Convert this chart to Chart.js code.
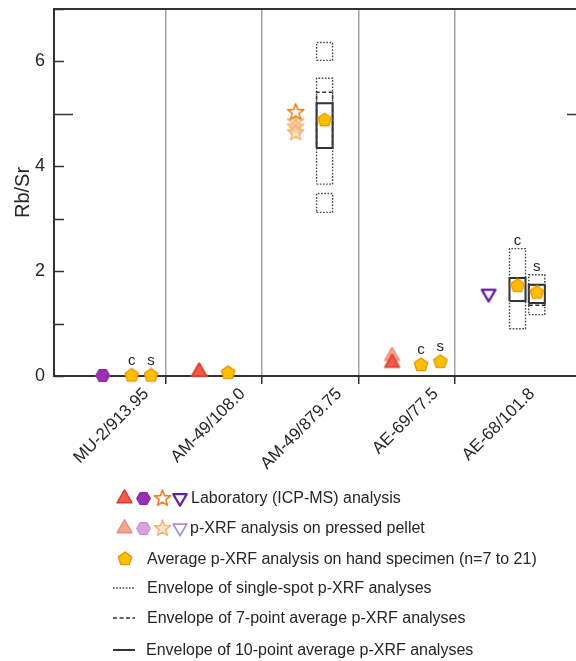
<!DOCTYPE html>
<html>
<head>
<meta charset="utf-8">
<title>Rb/Sr</title>
<script src="https://cdn.jsdelivr.net/npm/chart.js@4"></script>
<style>
  html, body { margin: 0; padding: 0; background: #fff; overflow: hidden; }
  #wrap { position: relative; width: 576px; height: 661px; overflow: hidden;
          font-family: "Liberation Sans", Arial, sans-serif; color: #262626; }
  #chart { position: absolute; left: 0; top: 0; }
  .sym { position: absolute; display: block; }
  .txt { position: absolute; font-size: 16px; line-height: 20px; white-space: nowrap; }
</style>
</head>
<body>
<div id="wrap">
  <canvas id="chart" width="600" height="480"></canvas>
</div>
<script>
// samples (drill hole / depth)
const categories = ['MU-2/913.95', 'AM-49/108.0', 'AM-49/879.75', 'AE-69/77.5', 'AE-68/101.8'];
const yTicks = [0, 1, 2, 3, 4, 5, 6, 7];
const yLabels = ['0', '', '2', '', '4', '', '6', ''];

// [sample, Rb/Sr]
const labTriangle = [['AM-49/108.0', 0.08], ['AE-69/77.5', 0.25]];
const pelletTriangle = [['AM-49/108.0', 0.08], ['AE-69/77.5', 0.38]];
const labHexagon = [['MU-2/913.95', 0.01]];
const pelletHexagon = [['MU-2/913.95', 0.01]];
const labStar = [['AM-49/879.75', 5.03]];
const pelletStar = [['AM-49/879.75', 4.85], ['AM-49/879.75', 4.75], ['AM-49/879.75', 4.64]];
const labTriDown = [['AE-68/101.8', 1.57]];
const pelletTriDown = [['AE-68/101.8', 1.57]];

// average on hand specimen: [sample, part (c = core, s = surface), Rb/Sr]
const handAverage = [
    ['MU-2/913.95', 'c', 0.01], ['MU-2/913.95', 's', 0.01],
    ['AM-49/108.0', '', 0.06],
    ['AM-49/879.75', '', 4.88],
    ['AE-69/77.5', 'c', 0.21], ['AE-69/77.5', 's', 0.27],
    ['AE-68/101.8', 'c', 1.72], ['AE-68/101.8', 's', 1.59]
];

// envelopes: [sample, part, low, high, kind]
const envelopes = [
    ['AM-49/879.75', '', 6.02, 6.36, 'single'],
    ['AM-49/879.75', '', 3.66, 5.68, 'single'],
    ['AM-49/879.75', '', 3.12, 3.48, 'single'],
    ['AM-49/879.75', '', 4.35, 5.41, 'avg7'],
    ['AM-49/879.75', '', 4.35, 5.20, 'avg10'],
    ['AE-68/101.8', 'c', 0.90, 2.43, 'single'],
    ['AE-68/101.8', 'c', 1.43, 1.87, 'avg10'],
    ['AE-68/101.8', 's', 1.17, 1.93, 'single'],
    ['AE-68/101.8', 's', 1.35, 1.74, 'avg7'],
    ['AE-68/101.8', 's', 1.39, 1.74, 'avg10']
];

// horizontal slot of each mark inside its sample column
const slotOffset = { lab: -0.15, '': 0.15, c: 0.15, s: 0.35 };
const boxHalf = 0.083;
const lineStyles = {
    single: { dash: [1.6, 1.6], width: 1.4, color: '#444' },
    avg7: { dash: [4, 2.5], width: 1.5, color: '#333' },
    avg10: { dash: [], width: 2, color: '#333' }
};

function xOf(sample, slot) {
    return categories.indexOf(sample) + slotOffset[slot];
}

// custom marker shapes
function makeMarker(shape, fill, stroke, r, lw) {
    const size = Math.ceil(r * 2 + lw + 4);
    const c = document.createElement('canvas');
    c.width = size;
    c.height = size;
    const g = c.getContext('2d');
    const cx = size / 2, cy = size / 2;
    const pts = [];
    const poly = (n, start) => {
        for (let i = 0; i < n; i++) {
            const a = start + i * 2 * Math.PI / n;
            pts.push([cx + r * Math.cos(a), cy + r * Math.sin(a)]);
        }
    };
    if (shape === 'triangle') poly(3, -Math.PI / 2);
    else if (shape === 'triangleDown') poly(3, Math.PI / 2);
    else if (shape === 'hexagon') poly(6, 0);
    else if (shape === 'pentagon') poly(5, -Math.PI / 2);
    else if (shape === 'star') {
        for (let i = 0; i < 10; i++) {
            const a = -Math.PI / 2 + i * Math.PI / 5;
            const rad = i % 2 ? r * 0.42 : r;
            pts.push([cx + rad * Math.cos(a), cy + rad * Math.sin(a)]);
        }
    }
    g.beginPath();
    pts.forEach((p, i) => i ? g.lineTo(p[0], p[1]) : g.moveTo(p[0], p[1]));
    g.closePath();
    g.fillStyle = fill;
    g.fill();
    g.lineJoin = 'round';
    g.lineWidth = lw;
    g.strokeStyle = stroke;
    g.stroke();
    return c;
}

const markers = {
    labTriangle: () => makeMarker('triangle', '#f25a48', '#dc3a2a', 8.6, 1.5),
    pelletTriangle: () => makeMarker('triangle', '#f5a594', '#f18b7a', 8.6, 1.5),
    labHexagon: () => makeMarker('hexagon', '#9b2fb2', '#8f28a6', 6.8, 1.2),
    pelletHexagon: () => makeMarker('hexagon', '#dba2e3', '#d08fd9', 6.8, 1.2),
    labStar: () => makeMarker('star', '#ffffff', '#f0801e', 8.5, 1.6),
    pelletStar: () => makeMarker('star', 'rgba(252,214,175,0.6)', '#f6b276', 8.5, 1.5),
    labTriDown: () => makeMarker('triangleDown', '#ffffff', '#6b1d9e', 7.8, 2.2),
    pelletTriDown: () => makeMarker('triangleDown', '#ffffff', '#a88fd8', 7.8, 1.8),
    pentagon: () => makeMarker('pentagon', '#ffc000', '#f29200', 7, 1.4)
};

function pointSet(label, rows, marker) {
    return {
        label: label,
        data: rows.map(r => ({ x: xOf(r[0], 'lab'), y: r[1] })),
        pointStyle: markers[marker](),
        pointRadius: 8,
        showLine: false,
        clip: false
    };
}

const pentagonSet = {
    label: 'Average p-XRF analysis on hand specimen (n=7 to 21)',
    data: handAverage.map(r => ({ x: xOf(r[0], r[1]), y: r[2] })),
    pointStyle: markers.pentagon(),
    pointRadius: 8,
    showLine: false,
    clip: false
};

const boxSets = envelopes.map(e => {
    const x = xOf(e[0], e[1]);
    const st = lineStyles[e[4]];
    return {
        label: 'envelope ' + e[4],
        data: [
            { x: x - boxHalf, y: e[2] }, { x: x + boxHalf, y: e[2] },
            { x: x + boxHalf, y: e[3] }, { x: x - boxHalf, y: e[3] },
            { x: x - boxHalf, y: e[2] }
        ],
        showLine: true,
        fill: false,
        pointRadius: 0,
        borderColor: st.color,
        borderWidth: st.width,
        borderDash: st.dash,
        borderJoinStyle: 'miter',
        tension: 0,
        clip: false
    };
});

// separators between sample columns
const separators = categories.slice(1).map((c, i) => i + 0.5);

// c / s labels, inward axis ticks and frame
const extras = {
    id: 'extras',
    afterDatasetsDraw(chart) {
        const ctx = chart.ctx;
        const xs = chart.scales.x, ys = chart.scales.y;
        ctx.save();
        ctx.font = '15px "Liberation Sans", Arial, sans-serif';
        ctx.fillStyle = '#262626';
        ctx.textAlign = 'center';
        ctx.textBaseline = 'middle';
        handAverage.forEach(r => {
            if (!r[1]) return;
            const boxes = envelopes.filter(e => e[0] === r[0] && e[1] === r[1]);
            let py;
            if (boxes.length) py = ys.getPixelForValue(Math.max(...boxes.map(e => e[3]))) - 8;
            else py = ys.getPixelForValue(r[2]) - 15;
            ctx.fillText(r[1], xs.getPixelForValue(xOf(r[0], r[1])), py);
        });
        ctx.restore();
    },
    afterDraw(chart) {
        const ctx = chart.ctx;
        const a = chart.chartArea;
        const ys = chart.scales.y;
        ctx.save();
        ctx.strokeStyle = '#333';
        ctx.lineWidth = 1.5;
        yTicks.forEach(v => {
            const py = Math.round(ys.getPixelForValue(v)) + 0.5;
            const len = v === 5 ? 19 : 10;
            ctx.beginPath();
            ctx.moveTo(a.left, py); ctx.lineTo(a.left + len, py);
            ctx.moveTo(a.right, py); ctx.lineTo(a.right - len, py);
            ctx.stroke();
        });
        ctx.lineWidth = 2;
        ctx.beginPath();
        ctx.moveTo(a.left, a.top); ctx.lineTo(a.right, a.top); ctx.lineTo(a.right, a.bottom);
        ctx.stroke();
        ctx.restore();
    }
};

const labelFont = { family: '"Liberation Sans", Arial, sans-serif', size: 17 };

new Chart(document.getElementById('chart'), {
    type: 'scatter',
    data: {
        datasets: [
            pentagonSet,
            pointSet('Laboratory (ICP-MS) analysis', labTriangle, 'labTriangle'),
            pointSet('Laboratory (ICP-MS) analysis', labHexagon, 'labHexagon'),
            pointSet('Laboratory (ICP-MS) analysis', labStar, 'labStar'),
            pointSet('Laboratory (ICP-MS) analysis', labTriDown, 'labTriDown'),
            pointSet('p-XRF analysis on pressed pellet', pelletTriangle, 'pelletTriangle'),
            pointSet('p-XRF analysis on pressed pellet', pelletHexagon, 'pelletHexagon'),
            pointSet('p-XRF analysis on pressed pellet', pelletStar, 'pelletStar'),
            pointSet('p-XRF analysis on pressed pellet', pelletTriDown, 'pelletTriDown'),
            ...boxSets
        ]
    },
    options: {
        responsive: false,
        animation: false,
        devicePixelRatio: 1,
        layout: { padding: { left: 0, top: 4, right: 14, bottom: 0 } },
        plugins: {
            legend: { display: false },
            tooltip: { enabled: false }
        },
        scales: {
            x: {
                type: 'linear',
                min: -0.655,
                max: 4.86,
                afterBuildTicks(scale) {
                    const vals = [-0.5];
                    categories.forEach((c, i) => { vals.push(i); vals.push(i + 0.5); });
                    scale.ticks = vals.map(v => ({ value: v }));
                },
                afterFit(scale) {
                    scale.height = 104;
                    scale.paddingLeft = 0;
                    scale.paddingRight = 0;
                },
                grid: {
                    color: ctx => separators.includes(ctx.tick.value) ? '#a3a3a3' : 'rgba(0,0,0,0)',
                    tickColor: ctx => separators.includes(ctx.tick.value) ? '#333' : 'rgba(0,0,0,0)',
                    lineWidth: 1.5,
                    tickWidth: 1.5,
                    tickLength: 8
                },
                border: { color: '#333', width: 2 },
                ticks: {
                    autoSkip: false,
                    minRotation: 45,
                    maxRotation: 45,
                    labelOffset: 29,
                    padding: 0,
                    color: '#262626',
                    font: labelFont,
                    callback: v => Number.isInteger(v) && v >= 0 ? categories[v] : ''
                }
            },
            y: {
                min: 0,
                max: 7,
                afterBuildTicks(scale) {
                    scale.ticks = yTicks.map(v => ({ value: v }));
                },
                afterFit(scale) {
                    scale.width = 54;
                    scale.paddingTop = 0;
                    scale.paddingBottom = 0;
                },
                grid: { drawOnChartArea: false, drawTicks: false },
                border: { color: '#333', width: 2 },
                ticks: {
                    padding: 9,
                    color: '#262626',
                    font: { family: labelFont.family, size: 18 },
                    callback: (v, i) => yLabels[yTicks.indexOf(v)]
                },
                title: {
                    display: true,
                    text: 'Rb/Sr',
                    color: '#262626',
                    font: { family: labelFont.family, size: 20 },
                    padding: { top: 11, bottom: 0 }
                }
            }
        }
    },
    plugins: [extras]
});

// legend below the plot
const wrap = document.getElementById('wrap');
function addSymbol(canvas, cx, cy) {
    canvas.className = 'sym';
    canvas.style.left = (cx - canvas.width / 2) + 'px';
    canvas.style.top = (cy - canvas.height / 2) + 'px';
    wrap.appendChild(canvas);
}
function addLine(kind, x0, x1, cy) {
    const st = lineStyles[kind];
    const c = document.createElement('canvas');
    c.width = x1 - x0;
    c.height = 6;
    const g = c.getContext('2d');
    g.strokeStyle = st.color;
    g.lineWidth = st.width;
    g.setLineDash(st.dash);
    g.beginPath();
    g.moveTo(0, 3); g.lineTo(c.width, 3);
    g.stroke();
    addSymbol(c, (x0 + x1) / 2, cy);
}
function addText(text, x, cy) {
    const s = document.createElement('div');
    s.className = 'txt';
    s.textContent = text;
    s.style.left = x + 'px';
    s.style.top = (cy - 10) + 'px';
    wrap.appendChild(s);
}

const legendRows = [498, 528, 559, 588, 618, 650];
['labTriangle', 'labHexagon', 'labStar', 'labTriDown'].forEach((m, i) =>
    addSymbol(markers[m](), [124, 143, 162, 180][i], legendRows[0]));
addText('Laboratory (ICP-MS) analysis', 191, legendRows[0]);
['pelletTriangle', 'pelletHexagon', 'pelletStar', 'pelletTriDown'].forEach((m, i) =>
    addSymbol(markers[m](), [124, 143, 162, 180][i], legendRows[1]));
addText('p-XRF analysis on pressed pellet', 190, legendRows[1]);
addSymbol(markers.pentagon(), 125, legendRows[2]);
addText('Average p-XRF analysis on hand specimen (n=7 to 21)', 147, legendRows[2]);
addLine('single', 113, 135, legendRows[3]);
addText('Envelope of single-spot p-XRF analyses', 147, legendRows[3]);
addLine('avg7', 113, 135, legendRows[4]);
addText('Envelope of 7-point average p-XRF analyses', 147, legendRows[4]);
addLine('avg10', 113, 135, legendRows[5]);
addText('Envelope of 10-point average p-XRF analyses', 146, legendRows[5]);
</script>
</body>
</html>
